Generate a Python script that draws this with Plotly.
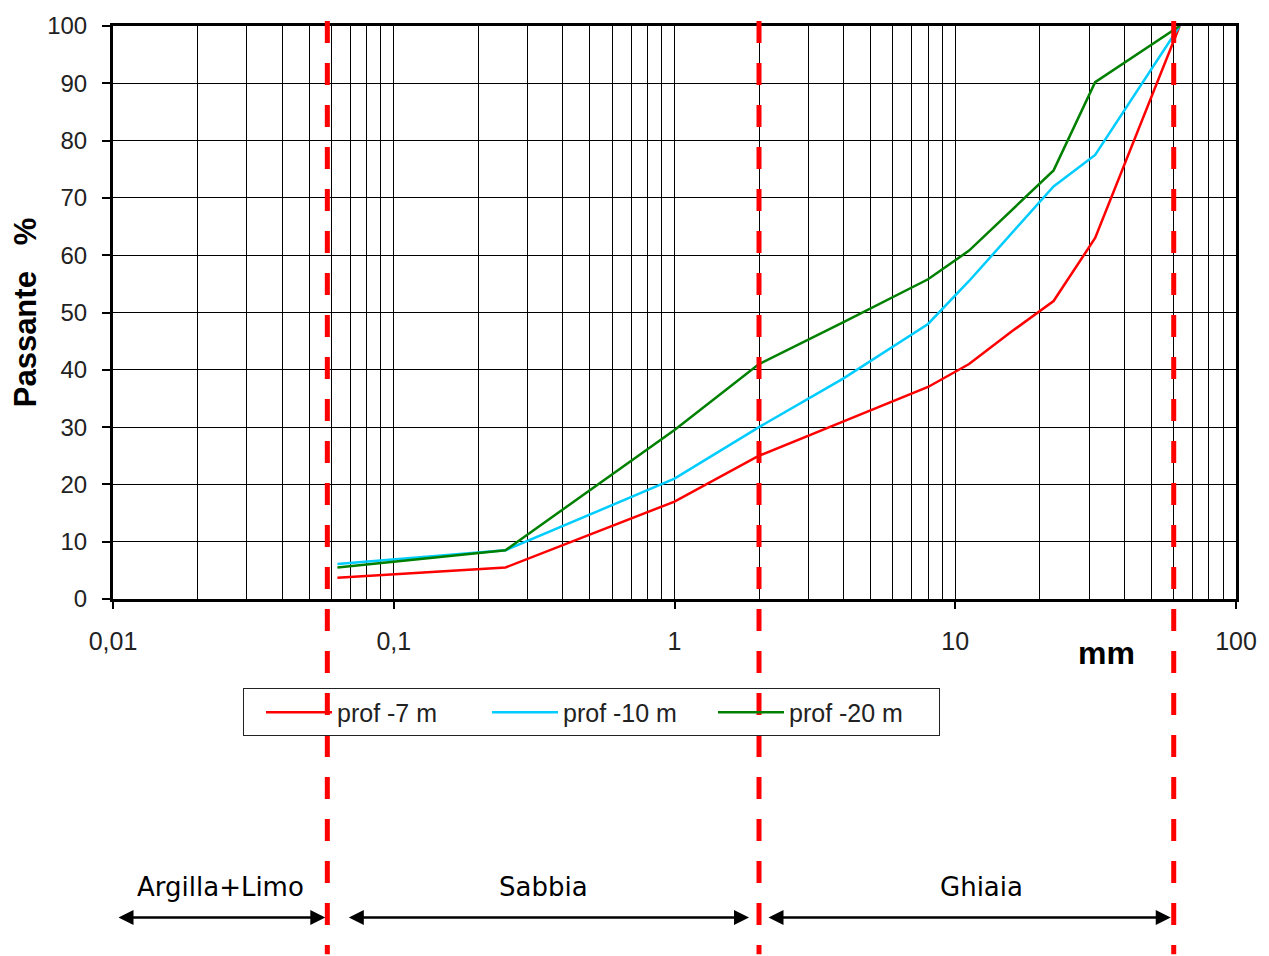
import math
import plotly.graph_objects as go

# Sieve openings (mm) and cumulative percent passing for each sample depth
diametri = [0.063, 0.25, 1, 2, 4, 8, 11.2, 16, 22.4, 31.5, 63]
prof_7 = [3.7, 5.5, 17, 25, 31, 37, 41, 46.8, 52, 63, 100]
prof_10 = [6.1, 8.5, 21, 30, 38.5, 48, 55.5, 64, 72, 77.5, 100]
prof_20 = [5.5, 8.5, 29.5, 41, 48.3, 55.8, 60.8, 68, 74.8, 90.2, 100]

serie_nomi = ["prof -7 m", "prof -10 m", "prof -20 m"]
serie_colori = ["#ff0000", "#00ccff", "#008000"]

# Grain-size class limits (mm) and class names
limiti_classi = [0.01, 0.058, 2, 60]
classi = ["Argilla+Limo", "Sabbia", "Ghiaia"]

# Axis ticks
x_tick_vals = [0.01, 0.1, 1, 10, 100]
x_tick_text = ["0,01", "0,1", "1", "10", "100"]
x_minor_vals = [m * 10 ** e for e in range(-2, 2) for m in range(2, 10)]
y_tick_vals = list(range(0, 101, 10))

fig = go.Figure()
for nome, colore, valori in zip(serie_nomi, serie_colori, [prof_7, prof_10, prof_20]):
    fig.add_trace(go.Scatter(
        x=diametri, y=valori, mode="lines", name=nome,
        line=dict(color=colore, width=2.5),
    ))

# Dashed red class boundaries running from the top of the plot to the page bottom
for lim in limiti_classi[1:]:
    fig.add_shape(
        type="line", xref="x", yref="paper",
        x0=lim, x1=lim, y0=1.0087, y1=-0.62,
        line=dict(color="#ff0000", width=5, dash="22px,20px"),
        layer="above",
    )

# Double-headed arrows and names for each grain-size class
startoff = [4, 20, 8]
endoff = [2, 10, 3]
label_shift = [0, 0, 15]
for i, nome in enumerate(classi):
    a, b = math.log10(limiti_classi[i]), math.log10(limiti_classi[i + 1])
    fig.add_annotation(
        x=b, y=-0.556, xref="x", yref="paper",
        ax=a, ay=0, axref="x", ayref="pixel",
        text="", showarrow=True, arrowside="end+start",
        arrowhead=2, startarrowhead=2, arrowsize=1.2, startarrowsize=1.2,
        arrowwidth=2.5, arrowcolor="black",
        standoff=endoff[i], startstandoff=startoff[i],
    )
    fig.add_annotation(
        x=(a + b) / 2, y=-0.502, xref="x", yref="paper",
        text=nome, showarrow=False, xshift=label_shift[i],
        font=dict(family="DejaVu Sans", size=26, color="black"),
        xanchor="center", yanchor="middle",
    )

# Unit label for the x axis
fig.add_annotation(
    x=0.885, y=-0.095, xref="paper", yref="paper",
    text="<b>mm</b>", showarrow=False,
    xanchor="center", yanchor="middle",
    font=dict(family="Liberation Sans", size=32, color="black"),
)

fig.update_layout(
    width=1269, height=956,
    margin=dict(l=113, r=33, t=22, b=357),
    paper_bgcolor="white", plot_bgcolor="white",
    showlegend=True,
    legend=dict(
        orientation="h", x=0.1158, y=-0.156, xanchor="left", yanchor="top",
        bgcolor="rgba(0,0,0,0)", bordercolor="#222", borderwidth=1,
        font=dict(family="Liberation Sans", size=25, color="#222"),
        title=dict(text="\u00a0", side="left",
                   font=dict(family="Liberation Sans", size=25)),
        itemwidth=66, entrywidth=145, entrywidthmode="pixels",
    ),
    xaxis=dict(
        type="log", range=[-2, 2],
        tickmode="array", tickvals=x_tick_vals, ticktext=x_tick_text,
        ticks="outside", ticklen=7, tickwidth=2, tickcolor="black",
        ticklabelstandoff=11,
        showgrid=True, gridcolor="black", gridwidth=1.4,
        minor=dict(tickmode="array", tickvals=x_minor_vals, showgrid=True,
                   gridcolor="black", gridwidth=1.4, ticks=""),
        showline=True, linecolor="black", linewidth=3, mirror=True,
        tickfont=dict(family="Liberation Sans", size=25, color="#222"),
        zeroline=False,
    ),
    yaxis=dict(
        range=[0, 100], tickmode="array", tickvals=y_tick_vals,
        ticks="outside", ticklen=8, tickwidth=2, tickcolor="black",
        ticklabelstandoff=10,
        showgrid=True, gridcolor="black", gridwidth=1.4,
        showline=True, linecolor="black", linewidth=3, mirror=True,
        tickfont=dict(family="Liberation Sans", size=24, color="#222"),
        title=dict(text="<b>Passante\u00a0\u00a0\u00a0%</b>", standoff=2,
                   font=dict(family="Liberation Sans", size=31, color="black")),
        zeroline=False,
    ),
)

fig.write_html("out.html")
